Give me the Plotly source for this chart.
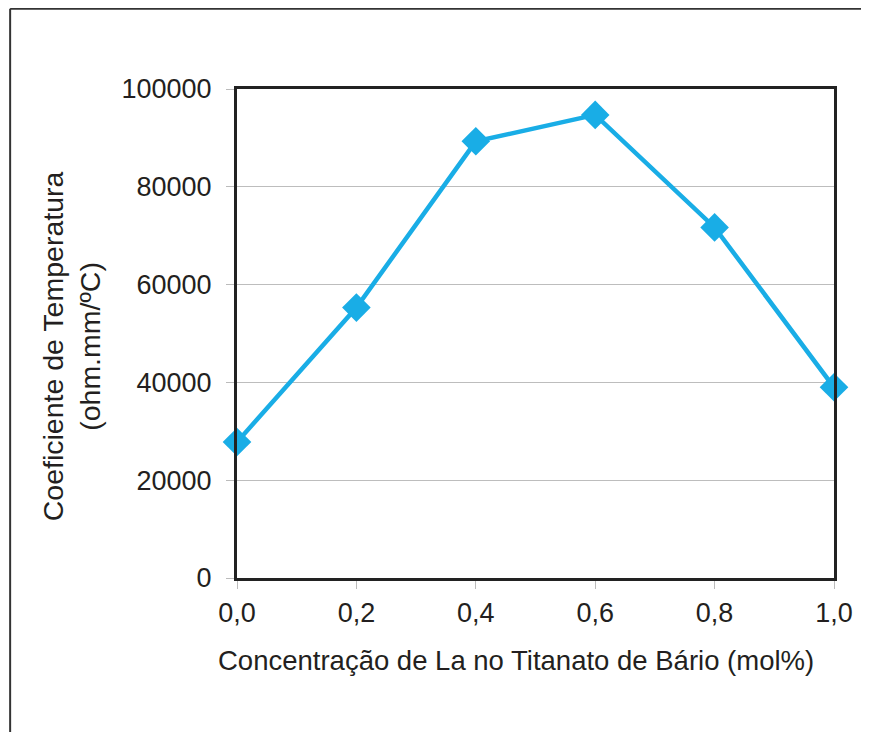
import plotly.graph_objects as go

# La concentration (mol%) vs temperature coefficient
concentracao = [0.0, 0.2, 0.4, 0.6, 0.8, 1.0]
coeficiente = [27800, 55300, 89300, 94700, 71700, 39000]

x_ticks = [0.0, 0.2, 0.4, 0.6, 0.8, 1.0]
y_ticks = [0, 20000, 40000, 60000, 80000, 100000]

titulo_x = "Concentração de La no Titanato de Bário (mol%)"
titulo_y = "Coeficiente de Temperatura<br>(ohm.mm/ºC)"

azul = "#19ade6"
texto = "#231f20"
fonte = "Liberation Sans, Arial"

fig = go.Figure()
fig.add_trace(go.Scatter(
    x=concentracao, y=coeficiente,
    mode="lines+markers",
    line=dict(color=azul, width=4.5),
    marker=dict(symbol="diamond", size=22, color=azul),
    cliponaxis=False,
    showlegend=False,
))

fig.update_layout(
    width=869, height=732,
    margin=dict(l=229, r=43, t=81, b=162),
    paper_bgcolor="white", plot_bgcolor="white",
    separators=",.",
    font=dict(family=fonte, size=23, color=texto),
    xaxis=dict(
        range=[0, 1], tickvals=x_ticks, tickformat=".1f",
        tickfont=dict(family=fonte, size=27, color=texto),
        showgrid=False, zeroline=False,
        showline=True, linecolor="#222", linewidth=3, mirror=True,
        ticks="outside", ticklen=8, tickcolor="#bbb", tickwidth=1,
        ticklabelstandoff=1,
    ),
    yaxis=dict(
        range=[0, 100000], tickvals=y_ticks, tickformat="d",
        tickfont=dict(family=fonte, size=27, color=texto),
        showgrid=True, gridcolor="#bdbdbd", gridwidth=1, zeroline=False,
        showline=True, linecolor="#222", linewidth=3, mirror=True,
        ticks="outside", ticklen=8, tickcolor="#bbb", tickwidth=1,
        ticklabelstandoff=9,
    ),
    annotations=[
        dict(text=titulo_x, xref="paper", yref="paper", x=0.467, y=-0.168,
             xanchor="center", yanchor="middle", showarrow=False,
             font=dict(family=fonte, size=27.5, color=texto)),
        dict(text=titulo_y, xref="paper", yref="paper", x=-0.278, y=0.474,
             xanchor="center", yanchor="middle", showarrow=False, textangle=-90,
             font=dict(family=fonte, size=28.5, color=texto)),
    ],
    shapes=[
        # outer frame, left and top edges
        dict(type="line", xref="paper", yref="paper",
             x0=-0.380, x1=-0.380, y0=1.164, y1=-0.36,
             line=dict(color="#333", width=2)),
        dict(type="line", xref="paper", yref="paper",
             x0=-0.380, x1=1.1, y0=1.164, y1=1.164,
             line=dict(color="#333", width=2)),
    ],
)

fig.write_html("out.html")
